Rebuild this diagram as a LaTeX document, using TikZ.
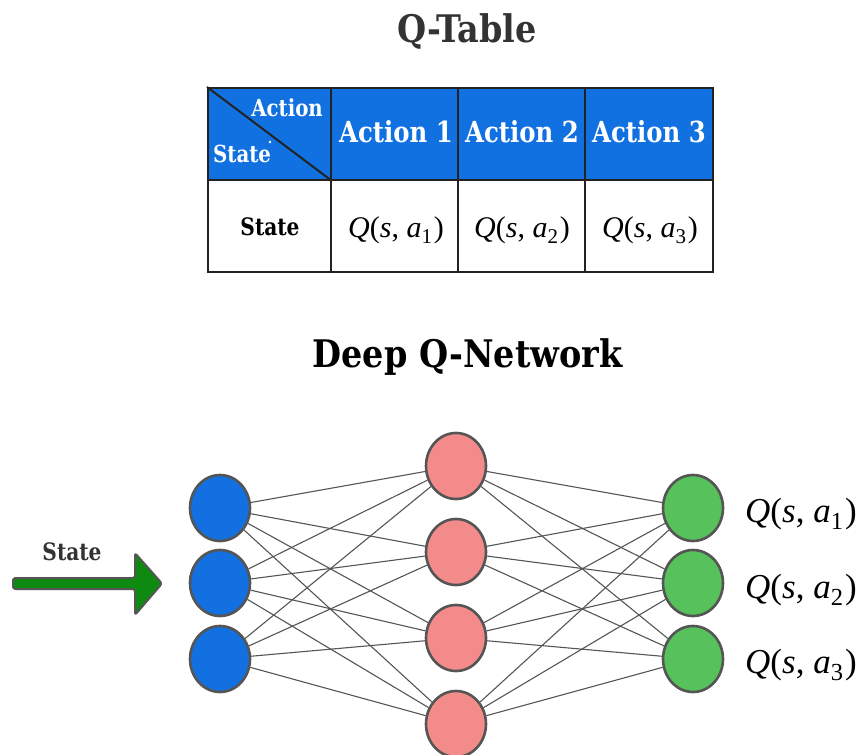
\documentclass[tikz,border=0pt]{standalone}
\usepackage{fontspec}
\usepackage{graphicx}
\setmainfont{DejaVu Serif}[FakeStretch=0.84]
\newfontfamily\titlefont{DejaVu Serif}[FakeStretch=0.88]
\newfontfamily\qfont{Liberation Serif}
\usetikzlibrary{shapes.geometric,backgrounds}

\definecolor{hdrblue}{HTML}{1271E1}
\definecolor{tblline}{HTML}{222222}
\definecolor{titlegrey}{HTML}{333333}
\definecolor{nodeline}{HTML}{555555}
\definecolor{linkgrey}{HTML}{555555}
\definecolor{inblue}{HTML}{1270E0}
\definecolor{hidpink}{HTML}{F48B8B}
\definecolor{outgreen}{HTML}{57C15B}
\definecolor{arrowgreen}{HTML}{0F8A10}

% Q(s, a_i) typeset in a Times-like italic
\newcommand{\qsa}[1]{{\qfont\itshape Q\upshape(\itshape s\upshape,\hspace{0.25em}\itshape a\upshape\raisebox{-0.22em}{\scalebox{0.7}{#1}}\hspace{0.06em})}}

\begin{document}
\begin{tikzpicture}[x=1pt,y=-1pt,
  ttl/.style={font=\titlefont\fontsize{38}{40}\selectfont\bfseries, anchor=base, inner sep=0pt},
  hdcell/.style={draw=tblline, line width=2pt, fill=hdrblue, minimum height=92pt, inner sep=0pt},
  bdcell/.style={draw=tblline, line width=2pt, fill=white, minimum height=92pt, inner sep=0pt},
  hdtext/.style={font=\fontsize{29}{30}\selectfont\bfseries, text=white, anchor=base, inner sep=0pt},
  qtext/.style={font=\fontsize{30}{32}\selectfont, text=black, anchor=base, inner sep=0pt},
  neuron/.style={ellipse, draw=nodeline, line width=2.6pt, minimum width=60pt, minimum height=66pt, inner sep=0pt},
  link/.style={draw=linkgrey, line width=1.1pt}]
\useasboundingbox (0,0) rectangle (858,754);

% ---------- Q-Table ----------
\node[ttl, text=titlegrey] (t1) at (467,43) {Q-Table};

\node[hdcell, minimum width=123pt] (c00) at (269.5,134) {};
\node[hdcell, minimum width=127pt] (c01) at (394.5,134) {};
\node[hdcell, minimum width=127pt] (c02) at (521.5,134) {};
\node[hdcell, minimum width=128pt] (c03) at (649,134) {};
\node[bdcell, minimum width=123pt] (c10) at (269.5,226) {};
\node[bdcell, minimum width=127pt] (c11) at (394.5,226) {};
\node[bdcell, minimum width=127pt] (c12) at (521.5,226) {};
\node[bdcell, minimum width=128pt] (c13) at (649,226) {};
\draw[tblline, line width=2pt] (c00.north west) -- (c00.south east);

\node[font=\fontsize{23.5}{25}\selectfont\bfseries, text=white, anchor=base east, inner sep=0pt] (ca) at (323,117) {Action};
\node[font=\fontsize{23.5}{25}\selectfont\bfseries, text=white, anchor=base west, inner sep=0pt] (cs) at (213,163) {State};
\fill[white] (270,142) circle (1.3pt);

\node[hdtext] (h1) at (396,143) {Action 1};
\node[hdtext] (h2) at (522,143) {Action 2};
\node[hdtext] (h3) at (649,143) {Action 3};

\node[font=\fontsize{24}{26}\selectfont\bfseries, text=black, anchor=base, inner sep=0pt] (rs) at (270,235) {State};
\node[qtext] (q1) at (396,237) {\qsa{1}};
\node[qtext] (q2) at (522,237) {\qsa{2}};
\node[qtext] (q3) at (650,237) {\qsa{3}};

% ---------- Deep Q-Network ----------
\node[ttl, text=black] (t2) at (467.5,367) {Deep Q-Network};

\node[neuron, fill=inblue] (i1) at (220,508) {};
\node[neuron, fill=inblue] (i2) at (220,583) {};
\node[neuron, fill=inblue] (i3) at (220,659) {};

\node[neuron, fill=hidpink] (m1) at (456,466) {};
\node[neuron, fill=hidpink] (m2) at (456,552) {};
\node[neuron, fill=hidpink] (m3) at (456,638) {};
\node[neuron, fill=hidpink] (m4) at (456,724) {};

\node[neuron, fill=outgreen] (o1) at (693,508) {};
\node[neuron, fill=outgreen] (o2) at (693,583) {};
\node[neuron, fill=outgreen] (o3) at (693,659) {};

\begin{scope}[on background layer]
  \foreach \a in {i1,i2,i3}
    \foreach \b in {m1,m2,m3,m4}
      \draw[link] (\a) -- (\b);
  \foreach \a in {m1,m2,m3,m4}
    \foreach \b in {o1,o2,o3}
      \draw[link] (\a) -- (\b);
\end{scope}

\node[font=\fontsize{35}{37}\selectfont, anchor=base west, inner sep=0pt] (l1) at (745,522) {\qsa{1}};
\node[font=\fontsize{35}{37}\selectfont, anchor=base west, inner sep=0pt] (l2) at (745,598) {\qsa{2}};
\node[font=\fontsize{35}{37}\selectfont, anchor=base west, inner sep=0pt] (l3) at (745,673) {\qsa{3}};

% input arrow
\node[font=\fontsize{24}{26}\selectfont\bfseries, text=titlegrey, anchor=base, inner sep=0pt] (sl) at (72,560) {State};
\draw[fill=arrowgreen, draw=nodeline, line width=2pt, rounded corners=2.5pt, line join=round]
  (13,578) -- (135,578) -- (135,553) -- (162,583.5) -- (135,615) -- (135,589) -- (13,589) -- cycle;
\end{tikzpicture}
\end{document}
